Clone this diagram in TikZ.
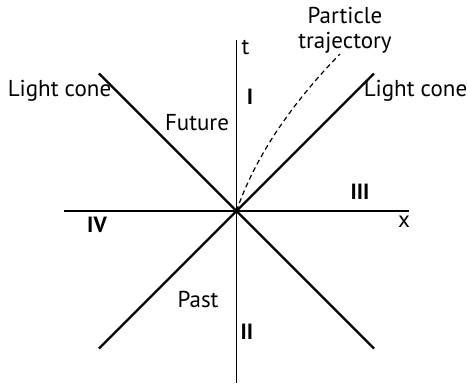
\documentclass[tikz,border=0pt]{standalone}
\usepackage{fontspec}
\setmainfont{PT Sans}
\usetikzlibrary{positioning}

\begin{document}
\begin{tikzpicture}[x=1pt, y=1pt,
  font=\fontsize{23}{25}\selectfont,
  axis/.style={line width=1.2pt},
  cone/.style={line width=2.2pt},
  lbl/.style={inner sep=0pt, align=center},
  quad/.style={lbl, font=\fontsize{22}{25}\selectfont\bfseries}]
\useasboundingbox (-236.5,-173) rectangle (230.5,211);
% axes
\coordinate (O) at (0,0);
\coordinate (tTop) at (0,171);
\coordinate (tBot) at (0,-172);
\coordinate (xLeft) at (-172.5,0);
\coordinate (xRight) at (172.5,0);
\draw[axis] (tBot) -- (tTop);
\draw[axis] (xLeft) -- (xRight);
% light cone
\coordinate (coneUL) at (-137.5,137.5);
\coordinate (coneUR) at (137.5,137.5);
\coordinate (coneLL) at (-137.5,-137.5);
\coordinate (coneLR) at (137.5,-137.5);
\draw[cone] (coneUL) -- (coneLR);
\draw[cone] (coneLL) -- (coneUR);
% particle trajectory
\draw[line width=1.2pt, dash pattern=on 5pt off 3.5pt]
  plot[domain=0:15.7, samples=40, smooth] ({3.45*\x+0.2*\x*\x}, {10*\x});
% labels
\node[lbl] (trajLbl) at (108.5,181) {Particle\\trajectory};
\node[lbl, anchor=west] (tLbl) at (5,164) {t};
\node[lbl] (xLbl) at (167.5,-11) {x};
\node[lbl] (coneL) at (-177,120) {Light cone};
\node[lbl] (coneR) at (179,120) {Light cone};
\node[lbl] (future) at (-39.5,88) {Future};
\node[lbl] (past) at (-38.5,-88) {Past};
\node[quad] (qI) at (13.5,114) {I};
\node[quad] (qII) at (10.5,-121) {II};
\node[quad] (qIII) at (123.5,19) {III};
\node[quad] (qIV) at (-139.5,-14) {IV};
\end{tikzpicture}
\end{document}
